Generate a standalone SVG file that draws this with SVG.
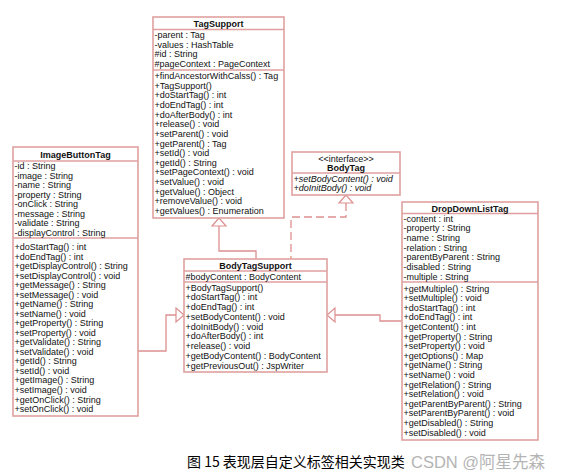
<svg xmlns="http://www.w3.org/2000/svg" width="562" height="474" viewBox="0 0 562 474">
<style>
.box{fill:#fff;stroke:#e0a0a0;stroke-width:1.6}
.sep{stroke:#e0a0a0;stroke-width:1.4}
.t{font-family:"Liberation Sans",Arial,sans-serif;font-size:9px;fill:#111}
.b{font-weight:bold;text-anchor:middle}
.i{font-style:italic}
.c{fill:none;stroke:#dd9090;stroke-width:1.3}
.d{stroke-dasharray:8 4}
.tri{fill:#fff;stroke:#dd9090;stroke-width:1.2}
</style>
<rect width="562" height="474" fill="#fff"/>
<g id="connectors">
<path class="c" d="M219 226V251H256V259"/>
<polygon class="tri" points="219,218 212,226 226,226"/>
<path class="c d" d="M346 203V217H291V259"/>
<polygon class="tri" points="346,195 339,203 353,203"/>
<path class="c" d="M138 351H166V315H176"/>
<polygon class="tri" points="184,315 176,308 176,322"/>
<path class="c" d="M335 315H380V321H402"/>
<polygon class="tri" points="327,315 335,308 335,322"/>
</g>
<g id="TagSupport">
<rect class="box" x="153" y="17" width="131" height="201"/>
<line class="sep" x1="153" y1="29.5" x2="284" y2="29.5"/>
<line class="sep" x1="153" y1="70" x2="284" y2="70"/>
<text class="t b" x="218.5" y="27">TagSupport</text>
<text class="t" x="154.5" y="38">-parent : Tag</text>
<text class="t" x="154.5" y="47.5">-values : HashTable</text>
<text class="t" x="154.5" y="57">#id : String</text>
<text class="t" x="154.5" y="66.5">#pageContext : PageContext</text>
<text class="t" x="154.5" y="79">+findAncestorWithCalss() : Tag</text>
<text class="t" x="154.5" y="88.6">+TagSupport()</text>
<text class="t" x="154.5" y="98.3">+doStartTag() : int</text>
<text class="t" x="154.5" y="107.9">+doEndTag() : int</text>
<text class="t" x="154.5" y="117.6">+doAfterBody() : int</text>
<text class="t" x="154.5" y="127.2">+release() : void</text>
<text class="t" x="154.5" y="136.8">+setParent() : void</text>
<text class="t" x="154.5" y="146.5">+getParent() : Tag</text>
<text class="t" x="154.5" y="156.1">+setId() : void</text>
<text class="t" x="154.5" y="165.8">+getId() : String</text>
<text class="t" x="154.5" y="175.4">+setPageContext() : void</text>
<text class="t" x="154.5" y="185">+setValue() : void</text>
<text class="t" x="154.5" y="194.7">+getValue() : Object</text>
<text class="t" x="154.5" y="204.3">+removeValue() : void</text>
<text class="t" x="154.5" y="214">+getValues() : Enumeration</text>
</g>
<g id="BodyTag">
<rect class="box" x="292" y="152" width="108" height="43"/>
<line class="sep" x1="292" y1="173" x2="400" y2="173"/>
<text class="t" x="346" y="162" text-anchor="middle" font-size="8">&lt;&lt;interface&gt;&gt;</text>
<text class="t b" x="346" y="170.5">BodyTag</text>
<text class="t i" x="293.5" y="181.5">+setBodyContent() : void</text>
<text class="t i" x="293.5" y="191">+doInitBody() : void</text>
</g>
<g id="ImageButtonTag">
<rect class="box" x="13" y="147" width="125" height="269"/>
<line class="sep" x1="13" y1="161" x2="138" y2="161"/>
<line class="sep" x1="13" y1="238" x2="138" y2="238"/>
<text class="t b" x="75.5" y="158">ImageButtonTag</text>
<text class="t" x="14.5" y="169">-id : String</text>
<text class="t" x="14.5" y="178.5">-image : String</text>
<text class="t" x="14.5" y="188">-name : String</text>
<text class="t" x="14.5" y="197.5">-property : String</text>
<text class="t" x="14.5" y="207">-onClick : String</text>
<text class="t" x="14.5" y="216.5">-message : String</text>
<text class="t" x="14.5" y="226">-validate : String</text>
<text class="t" x="14.5" y="235.5">-displayControl : String</text>
<text class="t" x="14.5" y="250">+doStartTag() : int</text>
<text class="t" x="14.5" y="259.5">+doEndTag() : int</text>
<text class="t" x="14.5" y="269.1">+getDisplayControl() : String</text>
<text class="t" x="14.5" y="278.6">+setDisplayControl() : void</text>
<text class="t" x="14.5" y="288.1">+getMessage() : String</text>
<text class="t" x="14.5" y="297.7">+setMessage() : void</text>
<text class="t" x="14.5" y="307.2">+getName() : String</text>
<text class="t" x="14.5" y="316.7">+setName() : void</text>
<text class="t" x="14.5" y="326.2">+getProperty() : String</text>
<text class="t" x="14.5" y="335.8">+setProperty() : void</text>
<text class="t" x="14.5" y="345.3">+getValidate() : String</text>
<text class="t" x="14.5" y="354.8">+setValidate() : void</text>
<text class="t" x="14.5" y="364.4">+getId() : String</text>
<text class="t" x="14.5" y="373.9">+setId() : void</text>
<text class="t" x="14.5" y="383.4">+getImage() : String</text>
<text class="t" x="14.5" y="393">+setImage() : void</text>
<text class="t" x="14.5" y="402.5">+getOnClick() : String</text>
<text class="t" x="14.5" y="412">+setOnClick() : void</text>
</g>
<g id="BodyTagSupport">
<rect class="box" x="184" y="259" width="143" height="113"/>
<line class="sep" x1="184" y1="271" x2="327" y2="271"/>
<line class="sep" x1="184" y1="282" x2="327" y2="282"/>
<text class="t b" x="255.5" y="268.5">BodyTagSupport</text>
<text class="t" x="185.5" y="280">#bodyContent : BodyContent</text>
<text class="t" x="185.5" y="290.5">+BodyTagSupport()</text>
<text class="t" x="185.5" y="300.3">+doStartTag() : int</text>
<text class="t" x="185.5" y="310">+doEndTag() : int</text>
<text class="t" x="185.5" y="319.8">+setBodyContent() : void</text>
<text class="t" x="185.5" y="329.5">+doInitBody() : void</text>
<text class="t" x="185.5" y="339.3">+doAfterBody() : int</text>
<text class="t" x="185.5" y="349">+release() : void</text>
<text class="t" x="185.5" y="358.8">+getBodyContent() : BodyContent</text>
<text class="t" x="185.5" y="368.5">+getPreviousOut() : JspWriter</text>
</g>
<g id="DropDownListTag">
<rect class="box" x="402" y="202" width="136" height="238"/>
<line class="sep" x1="402" y1="213.5" x2="538" y2="213.5"/>
<line class="sep" x1="402" y1="282" x2="538" y2="282"/>
<text class="t b" x="470" y="211.5">DropDownListTag</text>
<text class="t" x="403.5" y="221.5">-content : int</text>
<text class="t" x="403.5" y="231.2">-property : String</text>
<text class="t" x="403.5" y="240.8">-name : String</text>
<text class="t" x="403.5" y="250.5">-relation : String</text>
<text class="t" x="403.5" y="260.2">-parentByParent : String</text>
<text class="t" x="403.5" y="269.8">-disabled : String</text>
<text class="t" x="403.5" y="279.5">-multiple : String</text>
<text class="t" x="403.5" y="291.5">+getMultiple() : String</text>
<text class="t" x="403.5" y="301.1">+setMultiple() : void</text>
<text class="t" x="403.5" y="310.7">+doStartTag() : int</text>
<text class="t" x="403.5" y="320.3">+doEndTag() : int</text>
<text class="t" x="403.5" y="329.9">+getContent() : int</text>
<text class="t" x="403.5" y="339.5">+getProperty() : String</text>
<text class="t" x="403.5" y="349.1">+setProperty() : void</text>
<text class="t" x="403.5" y="358.7">+getOptions() : Map</text>
<text class="t" x="403.5" y="368.3">+getName() : String</text>
<text class="t" x="403.5" y="377.9">+setName() : void</text>
<text class="t" x="403.5" y="387.5">+getRelation() : String</text>
<text class="t" x="403.5" y="397.1">+setRelation() : void</text>
<text class="t" x="403.5" y="406.7">+getParentByParent() : String</text>
<text class="t" x="403.5" y="416.3">+setParentByParent() : void</text>
<text class="t" x="403.5" y="425.9">+getDisabled() : String</text>
<text class="t" x="403.5" y="435.5">+setDisabled() : void</text>
</g>
<text x="187" y="467" font-family="'Noto Sans CJK SC',sans-serif" font-size="14" fill="#000">图 15 表现层自定义标签相关实现类</text>
<text x="411" y="468" font-family="'Liberation Sans','Noto Sans CJK SC',sans-serif" font-size="16.5" fill="#b4b4b4">CSDN @阿星先森</text>
</svg>
